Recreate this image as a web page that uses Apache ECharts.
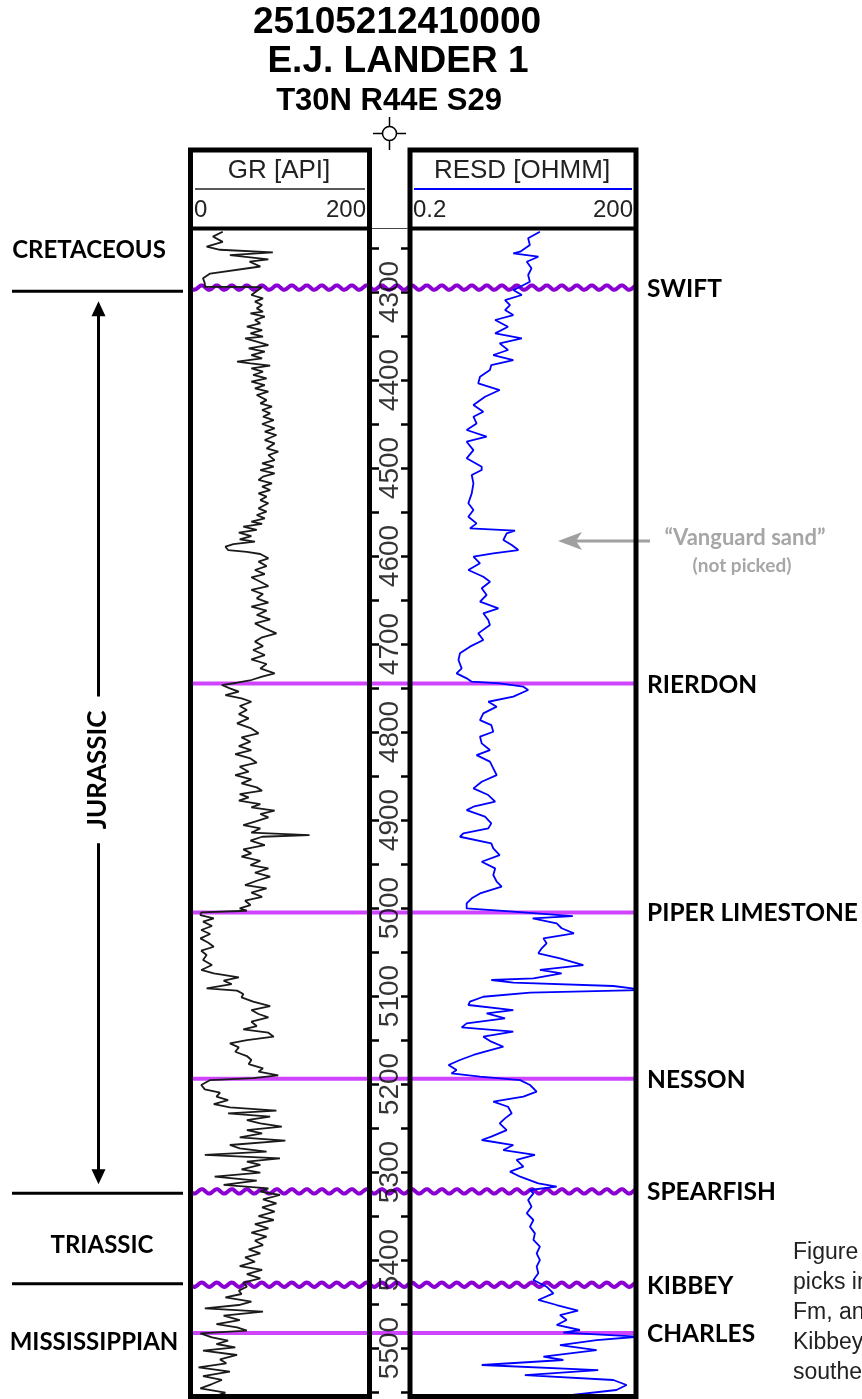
<!DOCTYPE html>
<html>
<head>
<meta charset="utf-8">
<script src="https://cdn.jsdelivr.net/npm/echarts@6/dist/echarts.min.js"></script>
<style>html,body{margin:0;padding:0;background:#fff}#c{width:862px;height:1399px}</style>
</head>
<body>
<div id="c"></div>
<script>
// ---------------- DATA ----------------
const titleLines = ['25105212410000', 'E.J. LANDER 1', 'T30N R44E S29'];
const depthLabels = [4300, 4400, 4500, 4600, 4700, 4800, 4900, 5000, 5100, 5200, 5300, 5400, 5500];
const depthTicks = [4250, 4300, 4350, 4400, 4450, 4500, 4550, 4600, 4650, 4700, 4750, 4800, 4850, 4900, 4950, 5000, 5050, 5100, 5150, 5200, 5250, 5300, 5350, 5400, 5450, 5500, 5550];
const topNames = ['SWIFT', 'RIERDON', 'PIPER LIMESTONE', 'NESSON', 'SPEARFISH', 'KIBBEY', 'CHARLES'];
const topDepths = [4295, 4745, 5005, 5194, 5322, 5428, 5483];
const topIsUnconformity = [true, false, false, false, true, true, false];
const eraNames = ['CRETACEOUS', 'JURASSIC', 'TRIASSIC', 'MISSISSIPPIAN'];
const eraLabelDepths = [4253, 4843, 5383, 5494];
const eraBoundaryDepths = [4299, 5324, 5427];

// GR [API] : [depth ft, value]
const grCurve = [
[4231.5,36],[4237,25],[4243,36],[4248.5,18],[4252,33],[4255,92],[4258,44],[4263,87],[4265.5,66],[4271,78],[4279,22],[4284.5,14],[4290,16],[4294,16],[4294.5,80],
[4295.9,78],[4303.4,68],[4307.2,81],[4311,72],[4314.8,80],[4318.6,74],[4322.4,81],[4324.3,67],[4328,83],[4331.8,72],[4335.6,78],[4339.4,63],[4343.2,80],[4347,67],
[4350.8,81],[4352.7,61],[4356.5,74],[4360.3,87],[4364,65],[4367.8,83],[4371.6,68],[4375.4,80],[4379.2,52],[4381.1,67],[4383.7,89],[4386.8,68],[4390.6,81],[4394.3,70],
[4398.1,85],[4401.9,68],[4405.7,83],[4409.5,72],[4413.3,87],[4417.1,74],[4422.8,85],[4426.5,78],[4430.3,91],[4434.1,80],[4437.9,89],[4441.7,81],[4445.5,93],[4450,80],
[4455,94],[4458.7,83],[4462.5,96],[4468.2,83],[4472,94],[4477.7,85],[4481.5,98],[4485.3,87],[4491,94],[4494.7,80],[4498.5,93],[4502.3,78],[4506,94],[4509.8,81],
[4513.6,76],[4517.4,91],[4521.2,80],[4525,89],[4528.8,76],[4532.6,85],[4536.4,78],[4540.1,87],[4545.8,76],[4549.6,85],[4553.4,74],[4557.2,83],[4561,68],[4563.6,80],
[4566.7,59],[4570.4,74],[4573.5,54],[4577.3,68],[4581,55],[4583.7,72],[4586.4,48],[4589.4,39],[4593.2,42],[4595.4,63],[4597.7,78],[4602.6,87],[4606.4,76],[4611.4,85],
[4615.9,72],[4620.5,83],[4624.2,68],[4629.2,78],[4634.1,87],[4638.6,68],[4643.2,81],[4648.1,74],[4653,87],[4657.6,68],[4662.1,85],[4667,74],[4672,89],[4676.5,72],
[4682.2,83],[4687.9,96],[4692.4,80],[4697.3,72],[4702.3,81],[4706.8,70],[4712.5,83],[4717.4,68],[4722.7,85],[4727.7,78],[4733.3,94],[4737.1,80],[4740.9,68],[4744,52],
[4746.6,35],[4750.4,44],[4754.2,54],[4758,39],[4761.7,57],[4765.6,68],[4770.5,55],[4775,63],[4779.6,54],[4784.5,65],[4790.2,52],[4795.9,68],[4801.5,76],[4806.1,57],
[4811,67],[4816,54],[4820.5,68],[4825,50],[4830,67],[4834.9,74],[4839.4,55],[4845.1,65],[4848.9,50],[4853.8,68],[4858.4,57],[4862.9,74],[4866.7,80],[4870.5,55],
[4874.3,65],[4878,54],[4881.9,78],[4885.6,68],[4889.4,94],[4893.2,78],[4897,87],[4901.9,72],[4905.7,59],[4909.5,78],[4914.4,68],[4917.1,133],[4919,80],[4923.5,67],
[4928.4,83],[4933.4,59],[4937.9,68],[4941.7,57],[4946.3,78],[4951.2,67],[4955,87],[4959.9,72],[4964.4,89],[4969,74],[4973.9,61],[4977.7,85],[4982.6,68],[4987.2,80],
[4991.7,61],[4996.6,67],[5000.4,55],[5003.1,63],[5005,12],[5008,11],[5011.7,26],[5015.5,14],[5020.4,24],[5025,12],[5029.5,22],[5034.5,11],[5039.4,20],[5044,26],
[5048.5,12],[5053.4,18],[5059.1,14],[5064.8,24],[5070.4,12],[5074.2,26],[5078.8,54],[5082.6,37],[5086.4,46],[5091.3,18],[5093.9,52],[5097.7,59],[5101.5,57],[5106.4,70],
[5111.4,89],[5115.9,68],[5120.4,76],[5124.2,87],[5129.2,68],[5134.1,74],[5137.9,59],[5141.7,87],[5146.2,93],[5150,63],[5153.8,44],[5158.3,54],[5163.3,50],[5168.2,63],
[5172.7,68],[5177.3,65],[5182.2,81],[5186,76],[5190.1,98],[5193.2,70],[5195.5,22],[5201.1,12],[5206.1,16],[5209.8,33],[5214.4,29],[5218.2,42],[5222.7,26],[5226.5,44],
[5230.3,96],[5233.3,42],[5237.1,89],[5240.9,63],[5244.7,78],[5248.5,102],[5252.3,63],[5256.1,80],[5260.6,55],[5264.4,106],[5269.3,44],[5273.1,55],[5276.9,85],
[5280.6,16],[5284.4,100],[5288.2,63],[5292,78],[5296.9,57],[5300.7,78],[5305.3,27],[5309.8,74],[5314.7,37],[5318.5,87],[5322.3,78],[5326.1,100],[5331,81],[5335.6,96],
[5340.1,80],[5345.1,94],[5350,76],[5354.5,93],[5359.1,72],[5364,87],[5368.9,68],[5373.5,85],[5378,72],[5383,81],[5387.9,65],[5392.4,78],[5397,61],[5401.9,72],
[5406.8,55],[5411.3,80],[5415.9,63],[5420.8,78],[5425.7,59],[5430.3,63],[5434.8,54],[5438.6,57],[5442.4,39],[5447.3,68],[5451.1,54],[5454.9,16],[5458.7,81],
[5463.2,37],[5468.2,55],[5472.7,29],[5476.5,52],[5480.3,63],[5483.3,11],[5487.9,24],[5491.6,42],[5495.4,29],[5499.2,50],[5503,14],[5507.9,52],[5512.9,33],[5517.4,40],
[5521.9,9],[5526.9,44],[5531.8,14],[5536.3,35],[5540.9,24],[5545.8,11],[5550.7,39],[5555.3,26]
];

// RESD [OHMM] : [depth ft, value]
const resdCurve = [
[4231.5,10.6],[4239,7.4],[4246.6,7.8],[4254.2,5.8],[4256,4.7],[4259.9,10.1],[4265.6,7.1],[4273.1,8.2],[4280.7,7.4],[4288.3,7.8],[4294,5.8],[4297.8,4.7],[4303.4,6.1],
[4309.1,3.65],[4314.8,4.25],[4320.5,3.65],[4326.2,4.7],[4331.8,2.7],[4339.4,4.0],[4347,2.7],[4352.7,6.1],[4358.4,3.1],[4365.9,4.0],[4371.6,2.55],[4377.3,4.7],
[4383,2.4],[4388.7,2.3],[4396.2,1.7],[4403.8,1.61],[4411.4,3.1],[4419,1.98],[4428.4,1.39],[4436,1.88],[4441.7,1.39],[4449.3,1.53],[4456.8,1.13],[4464.4,2.08],
[4470.1,1.13],[4479.6,1.39],[4489,1.13],[4498.5,1.79],[4502.3,1.79],[4508,1.32],[4517.4,1.39],[4528.8,1.32],[4540.1,1.19],[4547.7,1.39],[4555.3,1.19],[4562.9,1.53],
[4568.6,1.25],[4571.2,4.95],[4574.2,3.84],[4581.8,3.47],[4587.5,4.48],[4593.2,5.48],[4597,2.55],[4600.8,1.39],[4608.3,1.7],[4615.9,1.19],[4623.5,1.88],[4629.2,2.31],
[4636.7,1.79],[4644.3,2.08],[4651.9,1.7],[4659.5,2.98],[4665.1,1.88],[4672.7,2.19],[4678.4,2.3],[4687.9,1.61],[4695.5,1.88],[4703,1.25],[4710.6,0.92],[4718.2,0.88],
[4727.7,0.97],[4733.3,0.83],[4739,1.13],[4742.8,1.32],[4744.7,3.1],[4748.5,6.4],[4752.3,7.4],[4759.8,4.7],[4765.6,2.19],[4771.2,2.83],[4778.8,1.88],[4786.4,1.7],
[4792.1,2.4],[4799.7,2.55],[4805.3,1.7],[4812.9,1.79],[4820.5,2.3],[4826.2,1.53],[4833.7,2.3],[4841.3,2.55],[4848.9,2.83],[4856.5,1.79],[4864,1.39],[4871.6,2.19],
[4879.2,2.7],[4884.9,1.39],[4888.7,1.13],[4896.2,1.98],[4903.8,2.4],[4909.5,2.19],[4915.2,1.02],[4919,0.92],[4926.5,2.4],[4932.2,2.55],[4939.8,3.1],[4947.4,1.79],
[4955,2.7],[4962.5,2.55],[4970.1,2.83],[4975.8,3.3],[4983.4,1.7],[4989,1.32],[4994.7,1.13],[5000.4,1.13],[5004.2,4.7],[5009.1,29],[5011.8,8.5],[5017.5,17.7],
[5023,20.6],[5028.8,30],[5034.5,11.8],[5040.1,13],[5045.8,11.2],[5051.5,10.1],[5057.2,19.6],[5064.8,40],[5070.4,10.6],[5074.2,20.6],[5079.9,8.7],[5081.8,2.4],
[5084.8,4.7],[5088.6,100],[5093.2,260],[5096.2,7.84],[5100.8,1.88],[5106.4,1.25],[5110.2,1.19],[5115.9,4.7],[5119.7,2.08],[5125.4,3.65],[5131.1,1.13],[5135.6,0.97],
[5140.5,4.7],[5146.2,1.88],[5151.9,2.4],[5157.6,3.47],[5163.3,1.98],[5167,1.39],[5172.7,0.92],[5178.4,0.65],[5184.1,0.83],[5187.9,0.71],[5191.7,1.7],[5195.5,5.8],
[5201.1,7.84],[5208.7,9.6],[5214.4,6.4],[5220.1,2.55],[5225.8,4.0],[5233.3,4.48],[5239,3.65],[5244.7,3.1],[5252.3,3.84],[5259.8,2.4],[5263.6,1.79],[5269.3,4.7],
[5275,3.47],[5280.6,9.1],[5286.3,5.2],[5293.9,6.4],[5299.6,4.25],[5305.3,5.8],[5312.8,10.1],[5316.6,17.7],[5320.4,7.84],[5324.2,8.7],[5331.8,7.4],[5339.4,8.2],
[5346.9,7.1],[5354.5,8.7],[5362.1,7.84],[5369.7,9.1],[5377.2,8.7],[5384.8,10.6],[5392.4,9.6],[5400,10.6],[5407.5,9.6],[5415.1,10.1],[5422.7,8.7],[5430.3,13],
[5437.9,16],[5445.4,10.1],[5451.1,17.7],[5457.5,34],[5462.5,19.6],[5468.2,24],[5473.8,17.7],[5479.5,36],[5482.5,21.7],[5487.1,220],[5490.9,60],[5496.6,19.6],
[5502.3,60],[5509.8,11.8],[5513.6,21.7],[5519.3,1.79],[5525,63],[5530.7,6.7],[5536.3,100],[5542,150],[5547.7,110],[5555.3,17.7]
];

// ---------------- LAYOUT ----------------
const DMIN = 4228.4, DMAX = 5554.5;
const TOP = 229, H = 1167;
const GR_L = 190.5, GR_W = 179, RS_L = 410, RS_W = 226, DP_L = 372, DP_W = 36;
const SANS = '"Liberation Sans", Arial, sans-serif';
const CAL = 'Lato, "Open Sans", sans-serif';
const WAVE_COLOR = '#8A00D2', LINE_COLOR = '#CF45FF';

const chart = echarts.init(document.getElementById('c'), null, {renderer: 'canvas'});

function txt(x, y, s, font, fill, align, valign, extra) {
  return Object.assign({type: 'text', x: x, y: y, z: 20, silent: true,
    style: {text: s, font: font, fill: fill || '#000', align: align || 'center', verticalAlign: valign || 'middle',
            textAlign: align || 'center', textVerticalAlign: valign || 'middle'}}, extra || {});
}
function ln(x1, y1, x2, y2, w, c, z) {
  return {type: 'line', z: z || 20, silent: true, shape: {x1, y1, x2, y2}, style: {stroke: c || '#000', lineWidth: w}};
}

const depthAxisBase = {gridIndex: 1, type: 'value', inverse: true, min: DMIN, max: DMAX,
  axisLine: {show: false}, splitLine: {show: false}, axisLabel: {show: false},
  axisTick: {show: true, inside: true, length: 7, customValues: depthTicks, lineStyle: {color: '#000', width: 2.5}}};

const graphic = [
  // titles
  txt(397, 23, titleLines[0], 'bold 37px ' + SANS),
  txt(398, 62, titleLines[1], 'bold 37px ' + SANS),
  txt(389, 101, titleLines[2], 'bold 31px ' + SANS),
  // well symbol
  {type: 'circle', z: 20, shape: {cx: 389.5, cy: 133.5, r: 7}, style: {fill: '#fff', stroke: '#000', lineWidth: 1.5}},
  ln(389.5, 117, 389.5, 126.5, 1.5), ln(389.5, 140.5, 389.5, 150, 1.5),
  ln(373, 133.5, 382.5, 133.5, 1.5), ln(396.5, 133.5, 406, 133.5, 1.5),
  // track frames
  {type: 'rect', z: 30, silent: true, shape: {x: GR_L, y: 150, width: GR_W, height: 1246.5}, style: {fill: 'none', stroke: '#000', lineWidth: 5}},
  {type: 'rect', z: 30, silent: true, shape: {x: RS_L, y: 150, width: RS_W, height: 1246.5}, style: {fill: 'none', stroke: '#000', lineWidth: 5}},
  ln(GR_L, 228.5, GR_L + GR_W, 228.5, 4, '#000', 30),
  ln(RS_L, 228.5, RS_L + RS_W, 228.5, 4, '#000', 30),
  ln(DP_L, 228.5, DP_L + DP_W, 228.5, 1, '#444', 30),
  // headers
  txt(279, 171, 'GR [API]', '26px ' + SANS, '#222'),
  ln(195, 189, 365, 189, 1.5, '#222'),
  txt(194, 210, '0', '24px ' + SANS, '#222', 'left'),
  txt(366, 210, '200', '24px ' + SANS, '#222', 'right'),
  txt(522, 171, 'RESD [OHMM]', '26px ' + SANS, '#222'),
  ln(414, 189, 632, 189, 2, '#0000FF'),
  txt(413, 210, '0.2', '24px ' + SANS, '#222', 'left'),
  txt(633, 210, '200', '24px ' + SANS, '#222', 'right'),
  // Vanguard annotation
  ln(650, 541, 574, 541, 3, '#A0A0A0'),
  {type: 'polygon', z: 20, silent: true, shape: {points: [[558, 541], [582, 532], [576, 541], [582, 550]]}, style: {fill: '#A0A0A0'}},
  txt(745, 538, '\u201CVanguard sand\u201D', 'bold 22px ' + CAL, '#A6A6A6'),
  txt(742, 566, '(not picked)', 'bold 19px ' + CAL, '#A6A6A6'),
  // caption (cut at right edge)
  txt(793, 1253, 'Figure 6. Log', '23px ' + SANS, '#222', 'left'),
  txt(793, 1283, 'picks in the', '23px ' + SANS, '#222', 'left'),
  txt(793, 1313, 'Fm, and the', '23px ' + SANS, '#222', 'left'),
  txt(793, 1343, 'Kibbey Fm', '23px ' + SANS, '#222', 'left'),
  txt(793, 1373, 'southeastern', '23px ' + SANS, '#222', 'left')
];

const eraCenterX = [89, 98, 102, 94];

const option = {
  animation: false,
  backgroundColor: '#fff',
  grid: [
    {left: GR_L, top: TOP, width: GR_W, height: H},
    {left: DP_L, top: TOP, width: DP_W, height: H},
    {left: RS_L, top: TOP, width: RS_W, height: H},
    {left: 0, top: TOP, width: 862, height: H}
  ],
  xAxis: [
    {gridIndex: 0, type: 'value', min: 0, max: 200, show: false},
    {gridIndex: 1, type: 'value', min: 0, max: 1, show: false},
    {gridIndex: 2, type: 'log', logBase: 10, min: 0.2, max: 200, show: false},
    {gridIndex: 3, type: 'value', min: 0, max: 862, show: false}
  ],
  yAxis: [
    {gridIndex: 0, type: 'value', inverse: true, min: DMIN, max: DMAX, show: false},
    Object.assign({}, depthAxisBase, {position: 'left'}),
    Object.assign({}, depthAxisBase, {position: 'right'}),
    {gridIndex: 2, type: 'value', inverse: true, min: DMIN, max: DMAX, show: false},
    {gridIndex: 3, type: 'value', inverse: true, min: DMIN, max: DMAX, show: false}
  ],
  graphic: graphic,
  series: [
    { // formation tops
      type: 'custom', xAxisIndex: 3, yAxisIndex: 4, z: 2, silent: true,
      data: topDepths.map((d, i) => [0, d, i]),
      encode: {x: 0, y: 1},
      renderItem: function (params, api) {
        const i = api.value(2);
        const y = api.coord([0, api.value(1)])[1];
        const x0 = GR_L, x1 = RS_L + RS_W;
        let pts;
        if (topIsUnconformity[i]) {
          pts = [];
          for (let x = x0; x <= x1; x += 1) pts.push([x, y + 2.2 * Math.sin((x - x0) * 2 * Math.PI / 15)]);
        } else {
          pts = [[x0, y], [x1, y]];
        }
        return {type: 'group', children: [
          {type: 'polyline', shape: {points: pts}, style: {stroke: topIsUnconformity[i] ? WAVE_COLOR : LINE_COLOR, lineWidth: 4, fill: null}},
          {type: 'text', x: 647, y: y + 1, style: {text: topNames[i], font: 'bold 24.5px ' + CAL, fill: '#000',
            align: 'left', verticalAlign: 'middle', textAlign: 'left', textVerticalAlign: 'middle'}}
        ]};
      }
    },
    { // era boundaries and arrow
      type: 'custom', xAxisIndex: 3, yAxisIndex: 4, z: 2, silent: true,
      data: eraBoundaryDepths.map((d, i) => [0, d, i]),
      encode: {x: 0, y: 1},
      renderItem: function (params, api) {
        const i = api.value(2);
        const y = api.coord([0, api.value(1)])[1];
        const ch = [{type: 'line', shape: {x1: 12, y1: y, x2: 183, y2: y}, style: {stroke: '#000', lineWidth: 3}}];
        if (i === 0) {
          const yb = api.coord([0, eraBoundaryDepths[1]])[1];
          const ax = 98.5, t = y + 10, b = yb - 9;
          ch.push({type: 'line', shape: {x1: ax, y1: t + 10, x2: ax, y2: b - 10}, style: {stroke: '#000', lineWidth: 3}});
          ch.push({type: 'polygon', shape: {points: [[ax, t], [ax - 7, t + 15], [ax + 7, t + 15]]}, style: {fill: '#000'}});
          ch.push({type: 'polygon', shape: {points: [[ax, b], [ax - 7, b - 15], [ax + 7, b - 15]]}, style: {fill: '#000'}});
        }
        return {type: 'group', children: ch};
      }
    },
    { // era labels
      type: 'custom', xAxisIndex: 3, yAxisIndex: 4, z: 4, silent: true,
      data: eraLabelDepths.map((d, i) => [0, d, i]),
      encode: {x: 0, y: 1},
      renderItem: function (params, api) {
        const i = api.value(2);
        const y = api.coord([0, api.value(1)])[1];
        const rot = eraNames[i] === 'JURASSIC';
        return {type: 'text', x: eraCenterX[i], y: y, rotation: rot ? Math.PI / 2 : 0,
          style: {text: eraNames[i], font: (rot ? 'bold 26px ' : 'bold 24px ') + CAL, fill: '#000',
            align: 'center', verticalAlign: 'middle', textAlign: 'center', textVerticalAlign: 'middle',
            backgroundColor: rot ? '#fff' : null, padding: rot ? [0, 14, 0, 14] : 0}};
      }
    },
    {
      name: 'GR', type: 'line', xAxisIndex: 0, yAxisIndex: 0, z: 3,
      data: grCurve.map(p => [p[1], p[0]]),
      showSymbol: false, symbol: 'none', lineStyle: {color: '#1a1a1a', width: 1.8}, silent: true
    },
    {
      name: 'RESD', type: 'line', xAxisIndex: 2, yAxisIndex: 3, z: 3,
      data: resdCurve.map(p => [p[1], p[0]]),
      showSymbol: false, symbol: 'none', lineStyle: {color: '#0000FF', width: 1.8}, silent: true
    },
    { // depth labels
      type: 'scatter', xAxisIndex: 1, yAxisIndex: 1, z: 4, silent: true,
      data: depthLabels.map(d => [0.5, d]),
      symbolSize: 1, itemStyle: {color: 'rgba(0,0,0,0)'},
      label: {show: true, position: 'inside', rotate: 90, fontSize: 28, fontFamily: SANS, color: '#000',
        formatter: p => String(p.value[1])}
    }
  ]
};
chart.setOption(option);
</script>
</body>
</html>
